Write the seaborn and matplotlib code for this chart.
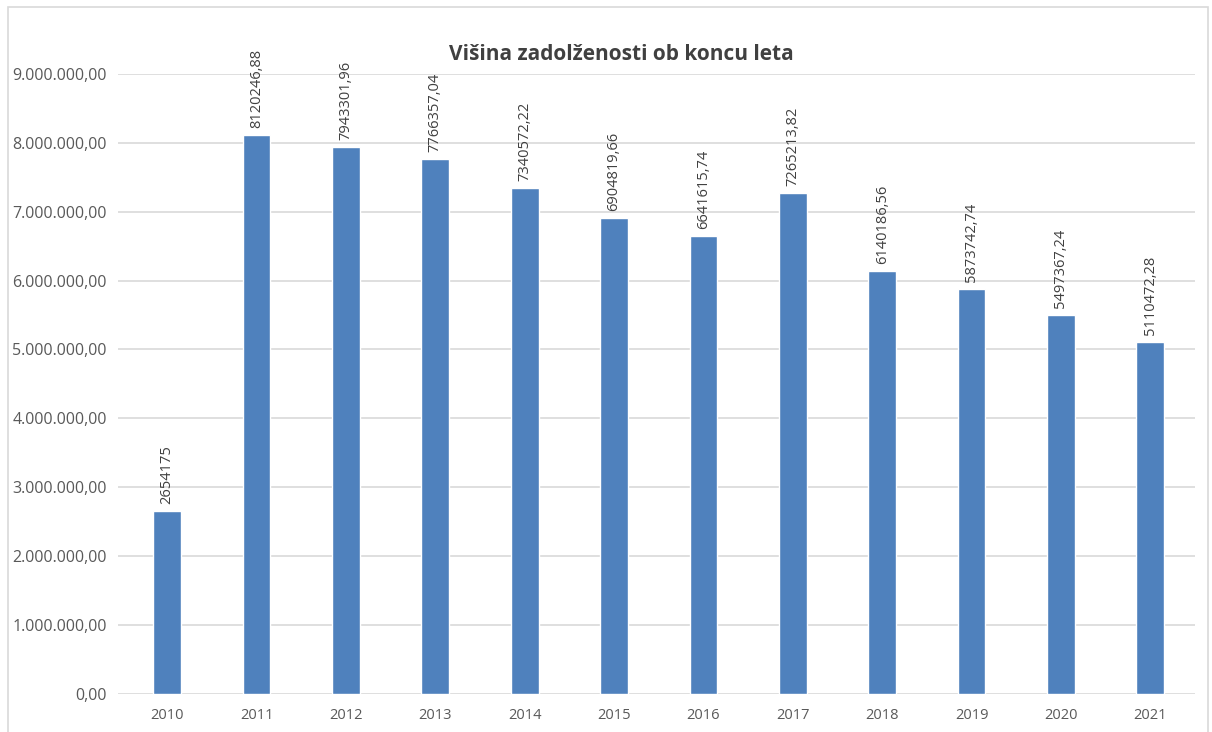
import matplotlib.pyplot as plt
import matplotlib.ticker as mticker
from matplotlib.patches import Rectangle
import pandas as pd
import seaborn as sns

years = ['2010', '2011', '2012', '2013', '2014', '2015',
         '2016', '2017', '2018', '2019', '2020', '2021']
debt = [2654175, 8120246.88, 7943301.96, 7766357.04, 7340572.22, 6904819.66,
        6641615.74, 7265213.82, 6140186.56, 5873742.74, 5497367.24, 5110472.28]
title = 'Višina zadolženosti ob koncu leta'


def fmt_label(v):
    if float(v).is_integer():
        return str(int(v))
    return f'{v:.2f}'.replace('.', ',')


def fmt_axis(v, pos):
    s = f'{v:,.2f}'
    return s.replace(',', 'X').replace('.', ',').replace('X', '.')


sns.set_style('white')
plt.rcParams['font.family'] = ['Open Sans', 'DejaVu Sans']

df = pd.DataFrame({'year': years, 'debt': debt})

fig = plt.figure(figsize=(12.12, 7.32), dpi=100)
ax = fig.add_axes([0.0974, 0.052, 0.8886, 0.847])

sns.barplot(data=df, x='year', y='debt', color='#4F81BD', saturation=1,
            width=0.31, ax=ax, zorder=3)

ax.set_ylim(0, 9000000)
ax.set_xlim(-0.55, 11.5)
ax.yaxis.set_major_locator(mticker.MultipleLocator(1000000))
ax.yaxis.set_major_formatter(mticker.FuncFormatter(fmt_axis))
ax.grid(axis='y', color='#D9D9D9', linewidth=1.2, zorder=0)
for s in ax.spines.values():
    s.set_visible(False)
ax.tick_params(axis='both', length=0, colors='#595959')
ax.tick_params(axis='x', pad=10, labelsize=10.5)
ax.tick_params(axis='y', pad=8, labelsize=11.5)
ax.set_xlabel('')
ax.set_ylabel('')

for i, v in enumerate(debt):
    ax.annotate(fmt_label(v), xy=(i, v), xytext=(0, 5), textcoords='offset points',
                rotation=90, ha='center', va='bottom', fontsize=10.5,
                color='#404040', annotation_clip=False)

fig.text(0.513, 0.925, title, ha='center', va='center', fontsize=15,
         fontweight='bold', color='#404040')

fig.patches.append(Rectangle((8 / 1212, -0.05), 1200 / 1212, 1.05 - 7 / 732,
                             transform=fig.transFigure, fill=False,
                             edgecolor='#D9D9D9', linewidth=1.2))

fig.savefig('out.png', dpi=100)
